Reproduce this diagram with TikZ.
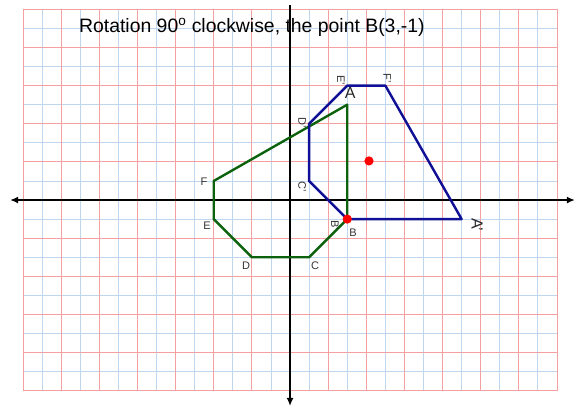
\documentclass[tikz,border=0pt]{standalone}
\usepackage{fontspec}
\setmainfont{Liberation Sans}
\usetikzlibrary{arrows.meta}
\definecolor{gridblue}{RGB}{190,214,240}
\definecolor{gridred}{RGB}{244,160,160}
\definecolor{shapegreen}{RGB}{12,98,12}
\definecolor{shapeblue}{RGB}{16,16,150}
\begin{document}
\begin{tikzpicture}[
        x=19.07pt, y=19.07pt,
        minorline/.style={draw=gridblue, line width=0.9pt},
        majorline/.style={draw=gridred, line width=0.9pt},
        axisline/.style={draw=black, line width=2.3pt},
        origshape/.style={draw=shapegreen, line width=2.4pt, line join=round},
        imageshape/.style={draw=shapeblue, line width=2.4pt, line join=round},
        smalllbl/.style={font=\fontsize{11}{13}\selectfont, text=black!80, inner sep=0pt},
        biglbl/.style={font=\fontsize{16}{18}\selectfont, text=black!85, inner sep=0pt},
        reddot/.style={fill=red, draw=none},
    ]
    \useasboundingbox (-15.21,-10.91) rectangle (15.05,10.49);
    % squared paper
    \foreach \i in {-13,-11,...,13} \draw[minorline] (\i,-10) -- (\i,10);
    \foreach \j in {-9,-7,...,9} \draw[minorline] (-14,\j) -- (14,\j);
    \foreach \i in {-14,-12,...,14} \draw[majorline] (\i,-10) -- (\i,10);
    \foreach \j in {-10,-8,...,10} \draw[majorline] (-14,\j) -- (14,\j);
    % axes
    \coordinate (xl) at (-14.68,0);
    \coordinate (xr) at (14.94,0);
    \coordinate (yt) at (0,10.23);
    \coordinate (yb) at (0,-10.8);
    \draw[axisline, {Latex[length=8pt,width=7pt]}-{Latex[length=8pt,width=7pt]}] (xl) -- (xr);
    \draw[axisline, -{Latex[length=8pt,width=7pt]}] (yt) -- (yb);
    \node[font=\fontsize{19.4}{22}\selectfont, anchor=base] (title) at (-2.0,8.76)
        {Rotation 90\textsuperscript{o} clockwise, the point B(3,-1)};
    % original figure
    \coordinate (A) at (3,5);
    \coordinate (B) at (3,-1);
    \coordinate (C) at (1,-3);
    \coordinate (D) at (-2,-3);
    \coordinate (E) at (-4,-1);
    \coordinate (F) at (-4,1);
    \draw[origshape] (A) -- (B) -- (C) -- (D) -- (E) -- (F) -- cycle;
    % image after rotation about B
    \coordinate (A') at (9,-1);
    \coordinate (B') at (3,-1);
    \coordinate (C') at (1,1);
    \coordinate (D') at (1,4);
    \coordinate (E') at (3,6);
    \coordinate (F') at (5,6);
    \draw[imageshape] (A') -- (B') -- (C') -- (D') -- (E') -- (F') -- cycle;
    \fill[reddot] (B) circle[radius=4.6pt];
    \fill[reddot] (4.14,2.05) circle[radius=4.6pt];
    % labels
    \node[biglbl] (labA) at (3.15,5.61) {A};
    \node[smalllbl] (labB) at (3.30,-1.73) {B};
    \node[smalllbl] (labC) at (1.31,-3.46) {C};
    \node[smalllbl] (labD) at (-2.31,-3.46) {D};
    \node[smalllbl] (labE) at (-4.35,-1.36) {E};
    \node[smalllbl] (labF) at (-4.51,0.94) {F};
    \node[biglbl, rotate=-90] (labA') at (9.81,-1.31) {A'};
    \node[smalllbl, rotate=-90] (labB') at (2.36,-1.31) {B'};
    \node[smalllbl, rotate=-90] (labC') at (0.63,0.68) {C'};
    \node[smalllbl, rotate=-90] (labD') at (0.63,4.04) {D'};
    \node[smalllbl, rotate=-90] (labE') at (2.67,6.29) {E'};
    \node[smalllbl, rotate=-90] (labF') at (5.09,6.40) {F'};
\end{tikzpicture}
\end{document}
